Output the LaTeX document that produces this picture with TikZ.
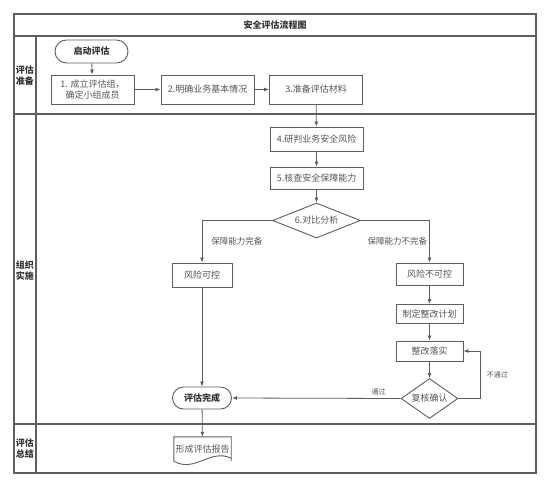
\documentclass[tikz,border=0pt]{standalone}
\usepackage{fontspec}
\newfontfamily\cjk{Noto Sans CJK SC}
\usetikzlibrary{shapes.geometric,shapes.misc,arrows.meta}
\definecolor{xian}{HTML}{5E5E5E}
\definecolor{zi}{HTML}{555555}

\begin{document}
\begin{tikzpicture}[x=1pt,y=-1pt,
		kuang/.style={draw=xian,line width=0.9pt,fill=white,text=zi,font=\cjk\fontsize{9}{11}\selectfont,minimum width=93pt,minimum height=24pt,inner sep=1pt,align=center},
		duan/.style={kuang,rounded rectangle,text=black!80,font=\cjk\bfseries\fontsize{9}{11}\selectfont},
		pan/.style={kuang,diamond,aspect=2.5,inner sep=0pt},
		jt/.style={draw=xian,line width=0.8pt,-{Latex[length=5pt,width=4pt]}},
		biao/.style={text=zi,font=\cjk\fontsize{7}{8}\selectfont,inner sep=1pt},
		fenzhi/.style={biao,font=\cjk\fontsize{8.5}{10}\selectfont},
		dao/.style={text=black!80,font=\cjk\bfseries\fontsize{9}{11}\selectfont,align=center,inner sep=0pt}]
	\useasboundingbox (0,0) rectangle (551,488);
	% 绘制泳道框
	\draw[draw=xian,line width=1.2pt] (14,14) rectangle (536,473);
	\draw[draw=xian,line width=1.2pt] (14,36) -- (536,36) (14,114) -- (536,114) (14,424) -- (536,424) (36,36) -- (36,473);
	\node[dao] (title) at (275,25) {安全评估流程图};
	\node[dao] (zhunbei) at (25,76) {评估\\准备};
	\node[dao] (shishi) at (25,271) {组织\\实施};
	\node[dao] (zongjie) at (25,449) {评估\\总结};
	% 评估准备
	\node[duan,minimum width=75pt,minimum height=23pt] (qidong) at (91.5,51.5) {启动评估};
	\node[kuang,minimum width=83pt,minimum height=29pt] (buzhou1) at (92.5,89.5) {1. 成立评估组，\\确定小组成员};
	\node[kuang,minimum height=29pt] (buzhou2) at (207.5,89.5) {2.明确业务基本情况};
	\node[kuang,minimum height=29pt] (buzhou3) at (316,89.5) {3.准备评估材料};
	% 组织实施
	\node[kuang] (buzhou4) at (316.5,139) {4.研判业务安全风险};
	\node[kuang,minimum height=22pt] (buzhou5) at (316.5,178) {5.核查安全保障能力};
	\node[pan,minimum width=88pt,minimum height=35pt] (duibi) at (316.5,220.5) {6.对比分析};
	\node[kuang,minimum width=60pt] (kekong) at (202,275) {风险可控};
	\node[kuang,minimum width=67pt,minimum height=22pt] (bukekong) at (429.5,274) {风险不可控};
	\node[kuang,minimum width=67pt,minimum height=19pt] (jihua) at (429.5,314) {制定整改计划};
	\node[kuang,minimum width=67pt,minimum height=20pt] (luoshi) at (429.5,351) {整改落实};
	\node[pan,minimum width=54pt,minimum height=40pt] (fuhe) at (429.5,398.5) {复核确认};
	\node[duan,minimum width=61pt,minimum height=22pt] (wancheng) at (202,398) {评估完成};
	% 评估总结
	\node[text=zi,font=\cjk\fontsize{9}{11}\selectfont,minimum width=57pt,minimum height=24pt,inner sep=0pt] (baogao) at (202.5,449) {形成评估报告};
	\draw[draw=xian,line width=0.9pt] (baogao.south east) -- (baogao.north east) -- (baogao.north west) -- (baogao.south west)
		.. controls +(21,12) and +(-21,-10) .. ([yshift=3pt]baogao.south east) -- cycle;
	% 连线
	\draw[jt] (qidong) -- (buzhou1);
	\draw[jt] (buzhou1) -- (buzhou2);
	\draw[jt] (buzhou2) -- (buzhou3);
	\draw[jt] (buzhou3) -- (buzhou4);
	\draw[jt] (buzhou4) -- (buzhou5);
	\draw[jt] (buzhou5) -- (duibi);
	\draw[jt] (duibi.west) -| node[fenzhi,pos=0.75,right=8pt]{保障能力完备} (kekong);
	\draw[jt] (duibi.east) -| node[fenzhi,pos=0.75,left=1pt]{保障能力不完备} (bukekong);
	\draw[jt] (bukekong) -- (jihua);
	\draw[jt] (jihua) -- (luoshi);
	\draw[jt] (luoshi) -- (fuhe);
	\draw[jt] (fuhe.east) -| node[biao,pos=0.75,right=5pt]{不通过} ([xshift=17pt]luoshi.east) -- (luoshi.east);
	\draw[jt] (fuhe.west) -- node[biao,pos=0.13,above=2pt]{通过} (wancheng.east);
	\draw[jt] (kekong) -- (wancheng);
	\draw[jt] (wancheng) -- (baogao);
\end{tikzpicture}
\end{document}
